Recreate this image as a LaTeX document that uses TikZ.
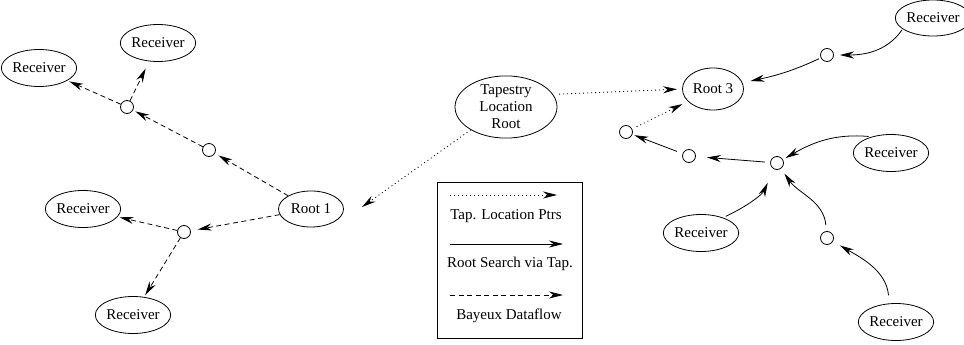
\documentclass[tikz,border=0pt]{standalone}
\usepackage{fontspec}
\setmainfont{Liberation Serif}
\usetikzlibrary{shapes.geometric,arrows.meta}
\begin{document}
\begin{tikzpicture}[x=1pt,y=1pt,
  every node/.style={font=\fontsize{15}{17}\selectfont},
  recv/.style={draw,ellipse,inner sep=0pt,minimum width=63pt,minimum height=37pt,line width=0.8pt},
  relay/.style={draw,circle,inner sep=0pt,minimum size=13pt,line width=0.8pt},
  tip/.style={-{Stealth[length=14pt,width=7pt,inset=4.5pt]}},
  dashline/.style={tip,line width=0.8pt,dash pattern=on 5pt off 3.5pt},
  dotline/.style={tip,line width=0.8pt,dash pattern=on 1pt off 3pt},
  solidline/.style={tip,line width=0.8pt},
  legtext/.style={inner sep=0pt}]
\useasboundingbox (0,0) rectangle (964,-345);

% left tree
\node[recv] (rA) at (158,-43) {Receiver};
\node[recv] (rB) at (39,-68) {Receiver};
\node[recv] (rC) at (83,-209) {Receiver};
\node[recv] (rD) at (133,-315) {Receiver};
\node[relay] (c1) at (127,-107) {};
\node[relay] (c2) at (209,-150) {};
\node[relay] (c3) at (184,-232) {};
\node[draw,ellipse,inner sep=0pt,minimum width=65pt,minimum height=36pt,line width=0.8pt] (r1) at (311,-209) {Root 1};

\draw[dashline,shorten >=4pt] (r1) -- (c2);
\draw[dashline,shorten >=2.5pt] (c2) -- (c1);
\draw[dashline,shorten >=2pt] (c1) -- (rB);
\draw[dashline,shorten >=8pt] (c1) -- (rA);
\draw[dashline,shorten >=7pt] (r1) -- (c3);
\draw[dashline,shorten >=2pt] (c3) -- (rC);
\draw[dashline,shorten >=2pt] (c3) -- (rD);

% middle
\node[draw,ellipse,inner sep=0pt,minimum width=102pt,minimum height=57pt,align=center,line width=0.8pt] (tap) at (506,-107) {Tapestry\\Location\\Root};
\coordinate (tapend) at (362,-207);
\draw[dotline] (tap.213) -- (tapend);

% legend
\node[draw,line width=1pt,minimum width=145pt,minimum height=156pt,inner sep=0pt] (legend) at (509.5,-260) {};
\coordinate (l1a) at (450,-195); \coordinate (l1b) at (557,-195);
\coordinate (l2a) at (450,-244); \coordinate (l2b) at (563,-244);
\coordinate (l3a) at (450,-295); \coordinate (l3b) at (563,-295);
\draw[dotline] (l1a) -- (l1b);
\draw[solidline] (l2a) -- (l2b);
\draw[dashline] (l3a) -- (l3b);
\node[legtext] (t1) at (506,-216) {Tap. Location Ptrs};
\node[legtext] (t2) at (510,-264) {Root Search via Tap.};
\node[legtext] (t3) at (509,-316) {Bayeux Dataflow};

% right tree
\node[draw,ellipse,inner sep=0pt,minimum width=61pt,minimum height=42pt,line width=0.8pt] (r3) at (713,-89) {Root 3};
\node[recv,minimum width=62pt,minimum height=36pt] (rE) at (933,-18) {Receiver};
\node[recv,minimum width=65pt] (rF) at (891,-153) {Receiver};
\node[recv,minimum width=64pt] (rG) at (701,-233) {Receiver};
\node[recv,minimum width=62pt] (rH) at (896,-322) {Receiver};
\node[relay] (c4) at (827,-55) {};
\node[relay] (c5) at (626,-132) {};
\node[relay] (c6) at (689,-156) {};
\node[relay] (c7) at (777,-163) {};
\node[relay] (c8) at (827,-238) {};

\draw[dotline,shorten <=6pt,shorten >=5pt] (tap.15) -- (r3.west);
\draw[dotline,shorten <=5pt,shorten >=6pt] (c5) -- (r3);
\draw[solidline,shorten <=1pt,shorten >=6pt] (rE.200) to[out=235,in=0] (c4);
\draw[solidline,shorten <=2pt,shorten >=8pt] (c4) to[out=205,in=12] (r3);
\draw[solidline,shorten <=6pt,shorten >=2pt] (c6) -- (c5);
\draw[solidline,shorten <=5pt,shorten >=11pt] (c7) -- (c6);
\draw[solidline,shorten <=3pt,shorten >=3pt] (rF.140) to[out=175,in=30] (c7);
\draw[solidline,shorten <=3pt,shorten >=15pt] (rG.35) to[out=25,in=245] (c7);
\draw[solidline,shorten <=6pt,shorten >=6pt] (c8) to[out=95,in=305] (c7);
\draw[solidline,shorten <=8pt,shorten >=8pt] (rH.110) to[out=95,in=330] (c8);
\end{tikzpicture}
\end{document}
